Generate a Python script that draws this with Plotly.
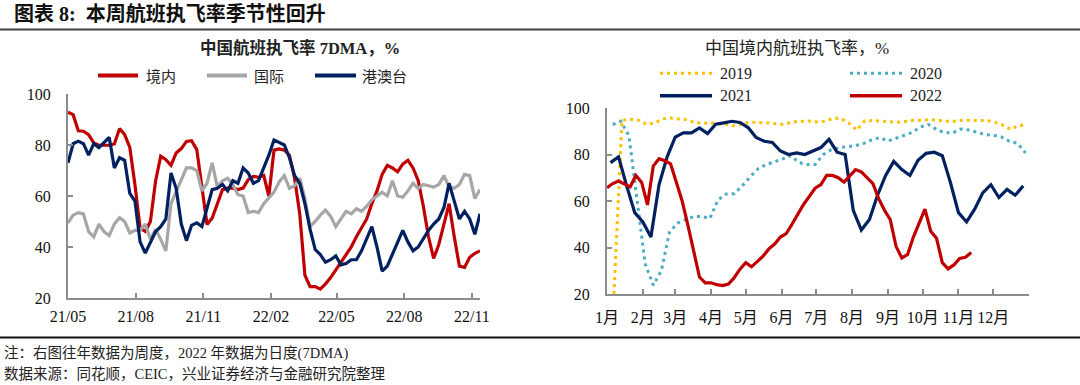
import pandas as pd
import plotly.graph_objects as go

# ---------------- Left chart data (7DMA, weekly samples) ----------------
left_dates = pd.date_range("2021-05-01", periods=81, freq="7D")
domestic = [92.9, 91.9, 85.6, 85.4, 84.1, 80.8, 79.9, 79.9, 79.9, 80.4,
            86.4, 84.1, 79.1, 64.4, 47.5, 46.1, 50.0, 65.8, 75.6, 74.2,
            72.0, 76.9, 78.6, 81.4, 81.7, 78.2, 63.1, 48.8, 51.4, 57.3,
            62.5, 63.1, 63.1, 62.5, 63.1, 66.4, 67.7, 67.3, 68.1, 60.0,
            78.0, 78.5, 78.0, 76.0, 67.0, 53.0, 29.0, 24.5, 24.5, 23.5,
            25.5, 28.0, 31.0, 34.0, 37.5, 40.0, 44.0, 47.5, 51.0, 57.0,
            62.0, 68.5, 72.0, 71.0, 69.5, 72.5, 74.0, 71.0, 66.0, 56.0,
            44.0, 35.5, 41.0, 49.0, 57.0, 44.0, 32.5, 32.0, 36.0, 37.5,
            38.5]
international = [49.5, 52.5, 53.5, 53.0, 46.0, 44.0, 49.0, 46.0, 44.5, 49.0,
                 51.5, 50.0, 45.5, 46.5, 46.5, 49.0, 43.0, 47.0, 43.0, 38.5,
                 57.0, 61.5, 66.0, 71.0, 71.0, 70.0, 62.0, 65.0, 73.0, 63.5,
                 66.0, 67.0, 64.5, 60.5, 60.0, 53.5, 54.0, 53.5, 57.0, 59.5,
                 61.5, 65.5, 68.0, 63.0, 64.0, 67.0, 59.0, 48.0, 50.0, 52.5,
                 54.5, 52.0, 48.0, 51.0, 54.0, 53.0, 55.0, 54.0, 56.0, 58.5,
                 60.0, 61.5, 60.0, 66.0, 60.0, 59.5, 62.0, 65.0, 63.0, 64.5,
                 64.0, 63.5, 64.5, 68.0, 63.5, 63.0, 64.5, 68.5, 68.0, 59.0,
                 62.5]
hk_macau_tw = [73.0, 80.5, 81.5, 80.5, 76.0, 80.5, 79.0, 81.0, 83.0, 71.0,
               75.0, 74.0, 61.0, 58.0, 42.0, 37.6, 42.0, 46.0, 48.0, 51.0,
               69.0, 63.0, 49.0, 42.5, 48.5, 49.5, 48.0, 55.0, 62.5, 63.0,
               64.5, 62.0, 66.0, 65.0, 71.0, 69.0, 65.0, 66.0, 71.0, 76.0,
               82.0, 81.0, 80.0, 75.0, 68.0, 65.0, 57.0, 47.0, 39.0, 37.0,
               34.0, 35.0, 36.5, 33.0, 33.5, 35.0, 35.0, 38.5, 43.0, 48.0,
               40.0, 30.5, 32.5, 37.0, 42.0, 46.5, 42.0, 38.5, 40.0, 43.5,
               46.5, 49.0, 51.0, 55.5, 65.0, 58.0, 51.0, 54.0, 51.0, 45.0,
               53.0]
left_tickvals = ["2021-05-01", "2021-08-01", "2021-11-01", "2022-02-01",
                 "2022-05-01", "2022-08-01", "2022-11-01"]
left_ticktext = ["21/05", "21/08", "21/11", "22/02", "22/05", "22/08", "22/11"]
left_names = ["境内", "国际", "港澳台"]

# ---------------- Right chart data (same calendar year, shown on 2022 dates) ----------------
dates_2019 = pd.date_range("2022-01-07", periods=52, freq="7D")
dates_2020 = pd.date_range("2022-01-06", periods=52, freq="7D")
dates_2021 = pd.date_range("2022-01-04", periods=52, freq="7D")
dates_2022 = pd.date_range("2022-01-01", periods=64, freq="5D")
y2019 = [20.0, 94.7, 95.2, 94.8, 93.0, 93.5, 95.3, 95.7, 95.3, 95.0,
         93.7, 93.4, 93.6, 93.3, 92.9, 92.2, 93.5, 93.9, 93.9, 93.6,
         93.2, 92.9, 94.0, 94.2, 94.4, 94.0, 94.3, 95.4, 95.6, 93.6,
         90.5, 94.5, 94.6, 94.3, 94.0, 93.9, 94.2, 94.7, 94.7, 95.0,
         94.8, 94.3, 94.3, 94.7, 94.7, 94.7, 94.6, 94.0, 92.7, 90.8,
         92.4, 92.7]
y2020 = [92.9, 94.3, 88.0, 61.0, 33.0, 23.8, 30.0, 46.5, 50.5, 52.0,
         53.3, 53.3, 52.5, 60.5, 63.0, 63.1, 66.5, 70.5, 74.0, 75.7,
         76.8, 78.1, 79.5, 76.5, 75.7, 75.7, 80.0, 82.1, 83.0, 83.3,
         83.8, 84.8, 86.3, 87.3, 85.8, 87.0, 88.3, 89.5, 91.8, 92.9,
         90.8, 89.4, 89.3, 91.0, 90.5, 89.5, 88.6, 88.3, 87.6, 85.7,
         84.8, 80.7]
y2021 = [76.5, 79.0, 66.5, 55.0, 51.0, 44.5, 67.0, 79.0, 87.5, 89.3,
         89.3, 91.4, 89.0, 93.0, 93.6, 94.3, 93.8, 91.6, 87.3, 85.7,
         85.2, 81.5, 80.0, 80.7, 80.0, 81.5, 83.0, 86.5, 81.0, 80.0,
         56.0, 47.5, 52.0, 62.5, 71.0, 77.0, 73.5, 71.0, 77.5, 80.5,
         81.0, 79.5, 68.0, 55.0, 51.0, 56.5, 63.5, 67.0, 61.5, 65.0,
         62.5, 66.5]
y2022 = [65.7, 67.5, 68.6, 67.5, 66.1, 71.0, 68.0, 58.3, 75.0, 78.2,
         77.3, 76.0, 68.5, 60.0, 49.5, 38.0, 27.3, 24.8, 24.8, 24.0,
         23.6, 24.3, 27.0, 30.7, 33.5, 31.7, 33.8, 36.3, 39.4, 41.5,
         44.5, 46.0, 50.0, 54.5, 58.5, 62.0, 65.5, 67.1, 71.0, 71.0,
         70.0, 68.1, 71.0, 73.5, 72.5, 70.0, 67.5, 61.0, 56.0, 52.0,
         40.5, 35.5, 37.0, 44.5, 50.5, 56.5, 47.0, 44.0, 33.5, 30.8,
         32.5, 35.3, 35.8, 37.8]
right_tickvals = [f"2022-{m:02d}-01" for m in range(1, 13)] + ["2023-01-01"]
right_ticktext = [f"{m}月" for m in range(1, 13)] + [""]
right_names = ["2019", "2020", "2021", "2022"]

# ---------------- Styling ----------------
RED, GRAY, NAVY = "#C00000", "#A6A6A6", "#002060"
GOLD, TEAL = "#FFC000", "#4BACC6"
AXIS = "#8C8C8C"
SERIF = "Liberation Serif, Noto Sans CJK SC, serif"
CJK = "Noto Sans CJK SC, sans-serif"
W, H = 1080, 385


def px(x):
    return x / W


def py(y):
    return 1 - y / H


fig = go.Figure()
for vals, name, col in zip([domestic, international, hk_macau_tw], left_names, [RED, GRAY, NAVY]):
    fig.add_trace(go.Scatter(x=left_dates, y=vals, name=name, mode="lines",
                             line=dict(color=col, width=3.2), xaxis="x", yaxis="y",
                             showlegend=False))

for d, vals, name, col, dash in zip([dates_2019, dates_2020, dates_2021, dates_2022],
                                   [y2019, y2020, y2021, y2022], right_names,
                                   [GOLD, TEAL, NAVY, RED],
                                   ["3px,4px", "3px,4px", "solid", "solid"]):
    fig.add_trace(go.Scatter(x=d, y=vals, name=name, mode="lines",
                             line=dict(color=col, width=3.2 if dash == "solid" else 3, dash=dash),
                             xaxis="x2", yaxis="y2", showlegend=False))

axis_common = dict(showline=True, linecolor=AXIS, linewidth=2, ticks="inside",
                   ticklen=5, tickwidth=2, tickcolor=AXIS, showgrid=False,
                   zeroline=False, automargin=False,
                   tickfont=dict(family=SERIF, size=16, color="#111"))

fig.update_layout(
    width=W, height=H, margin=dict(l=0, r=0, t=0, b=0, autoexpand=False),
    paper_bgcolor="white", plot_bgcolor="white", showlegend=False,
    xaxis=dict(domain=[px(68), px(480)], anchor="y", type="date",
               range=["2021-05-01", "2022-11-12"], tickmode="array",
               tickvals=left_tickvals, ticktext=left_ticktext,
               ticklabelstandoff=3, **axis_common),
    yaxis=dict(domain=[py(298), py(94)], anchor="x", range=[20, 100],
               tickmode="array", tickvals=[20, 40, 60, 80, 100],
               ticklabelstandoff=12, **axis_common),
    xaxis2=dict(domain=[px(607), px(1029)], anchor="y2", type="date",
                range=["2022-01-01", "2023-01-01"], tickmode="array",
                tickvals=right_tickvals, ticktext=right_ticktext,
                ticklabelstandoff=8, **axis_common),
    yaxis2=dict(domain=[py(294), py(108)], anchor="x2", range=[20, 100],
                tickmode="array", tickvals=[20, 40, 60, 80, 100],
                ticklabelstandoff=12, **axis_common),
)

shapes = [
    dict(type="line", xref="paper", yref="paper", x0=0, x1=1, y0=py(29.5), y1=py(29.5),
         line=dict(color="#404040", width=2)),
    dict(type="line", xref="paper", yref="paper", x0=0, x1=1, y0=py(337.5), y1=py(337.5),
         line=dict(color="#111111", width=2)),
]
annotations = [
    dict(text="<b>图表 8:  本周航班执飞率季节性回升</b>", x=px(12), y=py(14), xref="paper",
         yref="paper", xanchor="left", yanchor="middle", showarrow=False,
         font=dict(family=SERIF, size=20, color="#111")),
    dict(text="<b>中国航班执飞率 7DMA，%</b>", x=px(300), y=py(48), xref="paper",
         yref="paper", xanchor="center", yanchor="middle", showarrow=False,
         font=dict(family=SERIF, size=16.5, color="#222")),
    dict(text="中国境内航班执飞率，%", x=px(797), y=py(48), xref="paper",
         yref="paper", xanchor="center", yanchor="middle", showarrow=False,
         font=dict(family=SERIF, size=17, color="#222")),
    dict(text="注：右图往年数据为周度，2022 年数据为日度(7DMA)", x=px(2), y=py(353),
         xref="paper", yref="paper", xanchor="left", yanchor="middle", showarrow=False,
         font=dict(family=SERIF, size=14.5, color="#222")),
    dict(text="数据来源：同花顺，CEIC，兴业证券经济与金融研究院整理", x=px(2), y=py(374),
         xref="paper", yref="paper", xanchor="left", yanchor="middle", showarrow=False,
         font=dict(family=SERIF, size=14.5, color="#222")),
]

# manual legends
left_leg = [(98, 138, 144, RED), (207, 247, 252, GRAY), (315, 356, 360, NAVY)]
for (x0, x1, xt, col), name in zip(left_leg, left_names):
    shapes.append(dict(type="line", xref="paper", yref="paper", x0=px(x0), x1=px(x1),
                       y0=py(75.5), y1=py(75.5), line=dict(color=col, width=4)))
    annotations.append(dict(text=name, x=px(xt), y=py(75.5), xref="paper", yref="paper",
                            xanchor="left", yanchor="middle", showarrow=False,
                            font=dict(family=CJK, size=15, color="#222")))

right_leg = [(660, 712, 718, 73.3, GOLD, "dot"), (850, 902, 908, 73.3, TEAL, "dot"),
             (660, 712, 718, 95.7, NAVY, "solid"), (850, 902, 908, 95.7, RED, "solid")]
for (x0, x1, xt, yy, col, dash), name in zip(right_leg, right_names):
    shapes.append(dict(type="line", xref="paper", yref="paper", x0=px(x0), x1=px(x1),
                       y0=py(yy), y1=py(yy),
                       line=dict(color=col, width=3.5 if dash == "solid" else 3,
                                 dash="3px,4px" if dash == "dot" else "solid")))
    annotations.append(dict(text=name, x=px(xt), y=py(yy), xref="paper", yref="paper",
                            xanchor="left", yanchor="middle", showarrow=False,
                            font=dict(family=SERIF, size=16, color="#222")))

fig.update_layout(shapes=shapes, annotations=annotations)
fig.write_html("out.html", config={"displayModeBar": False},
               post_script="document.body.style.margin='0';document.body.style.padding='0';"
                           "document.documentElement.style.overflow='hidden';")
